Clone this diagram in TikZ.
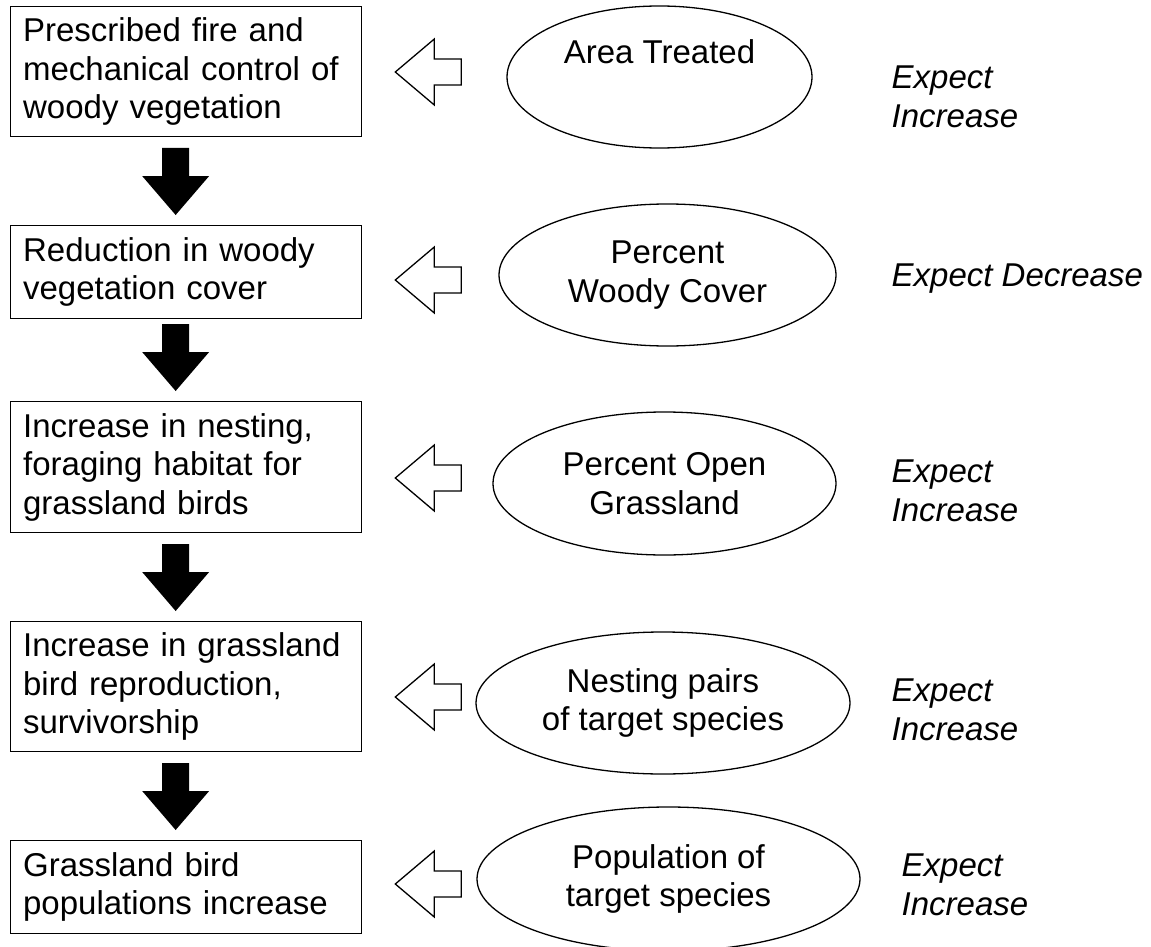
\documentclass[tikz,border=0pt]{standalone}
\usepackage{fontspec}
\setmainfont{Liberation Sans}
\usetikzlibrary{shapes.geometric,calc}
\begin{document}
\begin{tikzpicture}[x=1pt,y=-1pt,line width=1.3pt,
        font=\fontsize{33}{38.5}\selectfont,
        stage/.style={draw,rectangle,anchor=north west,text width=326pt,inner xsep=12.5pt,inner ysep=0pt,align=left},
        measure/.style={draw,ellipse,inner sep=2pt,align=center},
        expect/.style={anchor=north west,inner sep=0pt,align=left,font=\fontsize{33}{38.5}\selectfont\itshape}]
        \useasboundingbox (0,0) rectangle (1151,947);
        %% Chain of outcomes
        \node[stage,minimum height=130pt] (B1) at (10,6) {Prescribed fire and\\mechanical control of\\woody vegetation};
        \node[stage,minimum height=93pt] (B2) at (10,225) {Reduction in woody\\vegetation cover};
        \node[stage,minimum height=131pt] (B3) at (10,401) {Increase in nesting,\\foraging habitat for\\grassland birds};
        \node[stage,minimum height=130pt] (B4) at (10,621) {Increase in grassland\\bird reproduction,\\survivorship};
        \node[stage,minimum height=93pt] (B5) at (10,840) {Grassland bird\\populations increase};
        %% Block arrows down the chain
        \foreach \b in {B2,B3,B4,B5}
            \fill ($(\b.north)+(-10.5,-10)$) -- ++(-33.5,-39) -- ++(20,0) -- ++(0,-28) -- ++(27,0) -- ++(0,28) -- ++(20,0) -- cycle;
        %% Indicators
        \node[measure,minimum width=305pt,minimum height=142pt,text height=24pt,text depth=50pt] (E1) at (659.5,77) {Area Treated};
        \node[measure,minimum width=337pt,minimum height=142pt] (E2) at (667.5,275) {Percent\\Woody Cover};
        \node[measure,minimum width=343pt,minimum height=143pt] (E3) at (664.5,483.5) {Percent Open\\Grassland};
        \node[measure,minimum width=374pt,minimum height=142pt] (E4) at (663,703) {Nesting pairs\\of target species};
        \node[measure,minimum width=383pt,minimum height=144pt] (E5) at (668.5,879) {Population of\\target species};
        %% Hollow arrows from indicators
        \foreach \b/\y in {B1/72,B2/280,B3/478,B4/697,B5/884}
            \draw[fill=white] ($(\b.east |- 0,\y)+(33,0)$) -- ++(39,-33) -- ++(0,20) -- ++(27,0) -- ++(0,26) -- ++(-27,0) -- ++(0,20) -- cycle;
        %% Expected change
        \node[expect] (T1) at (891,65.4) {Expect\\Increase};
        \node[expect] (T2) at (891,263.4) {Expect Decrease};
        \node[expect] (T3) at (891,459.4) {Expect\\Increase};
        \node[expect] (T4) at (891,678.4) {Expect\\Increase};
        \node[expect] (T5) at (901,853.4) {Expect\\Increase};
    \end{tikzpicture}
\end{document}
